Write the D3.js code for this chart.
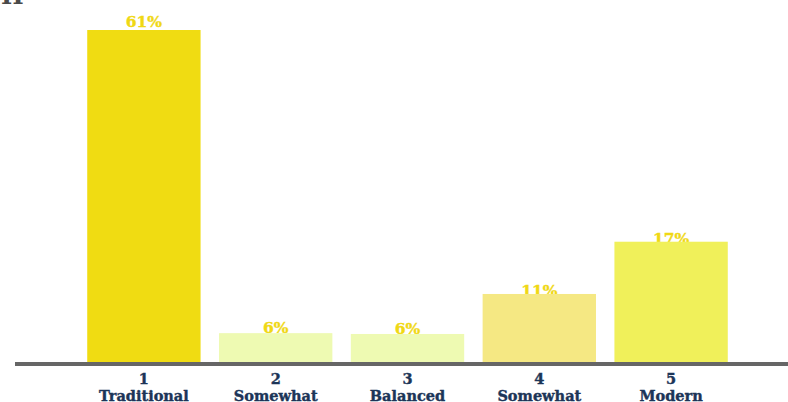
<!DOCTYPE html>
<html><head><meta charset="utf-8">
<script src="https://cdn.jsdelivr.net/npm/d3@7"></script>
<style>body{margin:0;background:#fff}svg{display:block}</style>
</head><body>
<svg id="c" width="788" height="402"></svg>
<script>
const categories = ["1", "2", "3", "4", "5"];
const categoryNames = ["Traditional", "Somewhat", "Balanced", "Somewhat", "Modern"];
const barValues = [61, 5.3, 5.15, 12.5, 22.1];
const valueLabels = ["61%", "6%", "6%", "11%", "17%"];
const barColors = ["#f0dc12", "#eefab2", "#eefab2", "#f5e883", "#f0f05a"];

const svg = d3.select("#c");
const baseY = 362;
const x = d3.scaleBand().domain(categories).range([78, 737]).paddingInner(0.14).paddingOuter(0.07);
const y = d3.scaleLinear().domain([0, 61]).range([baseY, 30]);

// cut-off title
svg.append("text").attr("x", 1).attr("y", 4).text("H")
  .attr("font-family", "DejaVu Serif").attr("font-weight", "bold").attr("font-size", 24).attr("fill", "#4a4a4a");

const font = "'DejaVu Serif', serif";
const labelOffsets = [-3, 0, 0, 2, 2];
svg.selectAll("text.val").data(categories).join("text").attr("class", "val")
  .attr("x", d => x(d) + x.bandwidth() / 2)
  .attr("y", (d, i) => y(barValues[i]) + labelOffsets[i])
  .attr("text-anchor", "middle")
  .attr("font-family", font).attr("font-weight", "bold").attr("font-size", 15.5)
  .attr("stroke", "#f0d814").attr("stroke-width", 0.4)
  .attr("fill", "#f0d814")
  .text((d, i) => valueLabels[i]);

svg.selectAll("rect.bar").data(categories).join("rect").attr("class", "bar")
  .attr("x", d => x(d)).attr("width", x.bandwidth())
  .attr("y", (d, i) => y(barValues[i]))
  .attr("height", (d, i) => baseY - y(barValues[i]))
  .attr("fill", (d, i) => barColors[i]);

const ax = svg.append("g").attr("transform", `translate(0,${baseY})`)
  .call(d3.axisBottom(x).tickSize(0).tickFormat(""));
ax.select(".domain").remove();
svg.append("rect").attr("x", 15).attr("y", baseY).attr("width", 773).attr("height", 4).attr("fill", "#666666");

ax.selectAll(".tick text").remove();
ax.selectAll(".tick").each(function (d, i) {
  const t = d3.select(this).append("text")
    .attr("text-anchor", "middle").attr("fill", "#1c3558")
    .attr("stroke", "#1c3558").attr("stroke-width", 0.4)
    .attr("font-family", font).attr("font-weight", "bold").attr("font-size", 14.5);
  t.append("tspan").attr("x", 0).attr("y", 22).text(d);
  t.append("tspan").attr("x", 0).attr("y", 38.5).text(categoryNames[i]);
});
</script>
</body></html>
